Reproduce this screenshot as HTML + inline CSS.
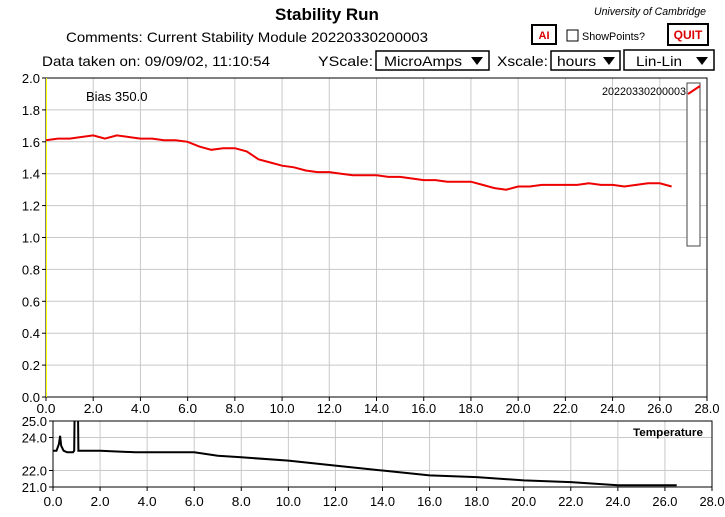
<!DOCTYPE html>
<html><head><meta charset="utf-8"><style>
body{margin:0;background:#fff;width:725px;height:512px;overflow:hidden;font-family:"Liberation Sans",sans-serif}
svg text{font-family:"Liberation Sans",sans-serif}
</style></head><body>
<svg id="c" width="725" height="512" xmlns="http://www.w3.org/2000/svg">
<text x="327" y="20" font-size="17" font-weight="bold" text-anchor="middle">Stability Run</text>
<text x="706" y="15" font-size="11" font-style="italic" text-anchor="end" textLength="112" lengthAdjust="spacingAndGlyphs">University of Cambridge</text>
<text x="66" y="42" font-size="14" textLength="362" lengthAdjust="spacingAndGlyphs">Comments:  Current Stability Module 20220330200003</text>
<g><rect x="532" y="25" width="24" height="19" fill="#fff" stroke="#000" stroke-width="2"/><text x="544" y="39" font-size="11" font-weight="bold" fill="#d00" text-anchor="middle">AI</text></g>
<g><rect x="567" y="30" width="11" height="11" fill="#fff" stroke="#000"/><text x="582" y="40" font-size="11" textLength="63" lengthAdjust="spacingAndGlyphs">ShowPoints?</text></g>
<g><rect x="668" y="24" width="40" height="21" fill="#fff" stroke="#000" stroke-width="2"/><text x="688" y="39" font-size="12" font-weight="bold" fill="#d00" text-anchor="middle">QUIT</text></g>
<text x="42" y="66" font-size="14" textLength="228" lengthAdjust="spacingAndGlyphs">Data taken on: 09/09/02, 11:10:54</text>
<text x="318" y="66" font-size="14" textLength="55" lengthAdjust="spacingAndGlyphs">YScale:</text>
<g><rect x="376" y="51" width="113" height="19" fill="#fff" stroke="#000" stroke-width="1.5"/><text x="384" y="66" font-size="14" textLength="78" lengthAdjust="spacingAndGlyphs">MicroAmps</text><path d="M471 57h12l-6 8z"/></g>
<text x="497" y="66" font-size="14" textLength="51" lengthAdjust="spacingAndGlyphs">Xscale:</text>
<g><rect x="551" y="51" width="69" height="19" fill="#fff" stroke="#000" stroke-width="1.5"/><text x="557" y="66" font-size="14" textLength="39" lengthAdjust="spacingAndGlyphs">hours</text><path d="M603 57h12l-6 8z"/></g>
<g><rect x="624" y="50" width="90" height="20" fill="#fff" stroke="#000" stroke-width="1.5"/><text x="636" y="66" font-size="14" textLength="46" lengthAdjust="spacingAndGlyphs">Lin-Lin</text><path d="M696 57h12l-6 8z"/></g>
<g id="main"></g><g id="temp"></g>
</svg>
<script>
const hours=[0,0.5,1,1.5,2,2.5,3,3.5,4,4.5,5,5.5,6,6.5,7,7.5,8,8.5,9,9.5,10,10.5,11,11.5,12,12.5,13,13.5,14,14.5,15,15.5,16,16.5,17,17.5,18,18.5,19,19.5,20,20.5,21,21.5,22,22.5,23,23.5,24,24.5,25,25.5,26,26.5];
const current=[1.61,1.62,1.62,1.63,1.64,1.62,1.64,1.63,1.62,1.62,1.61,1.61,1.60,1.57,1.55,1.56,1.56,1.54,1.49,1.47,1.45,1.44,1.42,1.41,1.41,1.40,1.39,1.39,1.39,1.38,1.38,1.37,1.36,1.36,1.35,1.35,1.35,1.33,1.31,1.30,1.32,1.32,1.33,1.33,1.33,1.33,1.34,1.33,1.33,1.32,1.33,1.34,1.34,1.32];
const tempHours=[0,0.15,0.25,0.3,0.35,0.45,0.6,0.85,0.9,0.92,1.06,1.08,1.1,2,3.5,6,7,8,10,12,14,16,18,20,22,24,26.5];
const tempValues=[23.2,23.2,23.6,24.1,23.5,23.2,23.1,23.1,23.2,26,26,23.2,23.2,23.2,23.1,23.1,22.9,22.8,22.6,22.3,22.0,21.7,21.6,21.4,21.3,21.1,21.1];
const xTicks=[0,2,4,6,8,10,12,14,16,18,20,22,24,26,28];
const yTicks=[0,0.2,0.4,0.6,0.8,1.0,1.2,1.4,1.6,1.8,2.0];
const tTicks=[21,22,24,25];
const NS="http://www.w3.org/2000/svg";
function mk(p,t,a){const e=document.createElementNS(NS,t);for(const k in a)e.setAttribute(k,a[k]);p.appendChild(e);return e;}
// main axes
const M={l:46,r:707,t:78,b:397};
const mx=h=>M.l+h/28*(M.r-M.l), my=v=>M.b-v/2*(M.b-M.t);
const g=document.getElementById('main');
xTicks.forEach(t=>{const l=mk(g,'line',{x1:mx(t),x2:mx(t),y1:M.t,y2:M.b,stroke:'#c8c8c8'});


mk(g,'line',{x1:mx(t),x2:mx(t),y1:M.b,y2:M.b+4,stroke:'#000'});
const tx=mk(g,'text',{x:mx(t),y:M.b+16,'font-size':13,'text-anchor':'middle',textLength:t>=10?25:19,lengthAdjust:'spacingAndGlyphs'});tx.textContent=t.toFixed(1);

});
yTicks.forEach(t=>{mk(g,'line',{x1:M.l,x2:M.r,y1:my(t),y2:my(t),stroke:'#c8c8c8'});
mk(g,'line',{x1:M.l-4,x2:M.l,y1:my(t),y2:my(t),stroke:'#000'});
const tx=mk(g,'text',{x:M.l-6,y:my(t)+5,'font-size':13,'text-anchor':'end'});tx.textContent=t.toFixed(1);

});
const fr=mk(g,'rect',{x:M.l,y:M.t,width:M.r-M.l,height:M.b-M.t,fill:'none',stroke:'#000'});


mk(g,'line',{x1:M.l+0.5,x2:M.l+0.5,y1:M.t,y2:M.b,stroke:'#ff0'});
const bias=mk(g,'text',{x:86,y:101,'font-size':13});bias.textContent='Bias 350.0';


let d='';hours.forEach((h,i)=>{d+=(i?'L':'M')+mx(h).toFixed(1)+' '+my(current[i]).toFixed(1)+' ';});
const cl=mk(g,'path',{d:d,fill:'none',stroke:'#e00','stroke-width':2});


const lg=mk(g,'rect',{x:687,y:83,width:13,height:163,fill:'#fff',stroke:'#444'});


mk(g,'line',{x1:688,y1:94,x2:700,y2:86,stroke:'#e00','stroke-width':2});
const lt=mk(g,'text',{x:686,y:95,'font-size':11,'text-anchor':'end',textLength:84,lengthAdjust:'spacingAndGlyphs'});lt.textContent='20220330200003';


// temperature axes
const T={l:53,r:712,t:421,b:487};
const tx_=h=>T.l+h/28*(T.r-T.l), ty=v=>T.b-(v-21)/4*(T.b-T.t);
const g2=document.getElementById('temp');
xTicks.forEach(t=>{mk(g2,'line',{x1:tx_(t),x2:tx_(t),y1:T.t,y2:T.b,stroke:'#c8c8c8'});
mk(g2,'line',{x1:tx_(t),x2:tx_(t),y1:T.b,y2:T.b+4,stroke:'#000'});
const tx=mk(g2,'text',{x:tx_(t),y:T.b+19,'font-size':13,'text-anchor':'middle',textLength:t>=10?25:19,lengthAdjust:'spacingAndGlyphs'});tx.textContent=t.toFixed(1);

});
tTicks.forEach(t=>{mk(g2,'line',{x1:T.l,x2:T.r,y1:ty(t),y2:ty(t),stroke:'#c8c8c8'});
mk(g2,'line',{x1:T.l-4,x2:T.l,y1:ty(t),y2:ty(t),stroke:'#000'});
const tx=mk(g2,'text',{x:T.l-6,y:ty(t)+5,'font-size':13,'text-anchor':'end'});tx.textContent=t.toFixed(1);

});
const cp=mk(g2,'clipPath',{id:'tc'});mk(cp,'rect',{x:T.l,y:T.t,width:T.r-T.l,height:T.b-T.t});
let d2='';tempHours.forEach((h,i)=>{d2+=(i?'L':'M')+tx_(h).toFixed(1)+' '+ty(tempValues[i]).toFixed(1)+' ';});
const tl=mk(g2,'path',{d:d2,fill:'none',stroke:'#000','stroke-width':2,'clip-path':'url(#tc)'});


const f2=mk(g2,'rect',{x:T.l,y:T.t,width:T.r-T.l,height:T.b-T.t,fill:'none',stroke:'#000'});


const tt=mk(g2,'text',{x:703,y:436,'font-size':11,'font-weight':'bold','text-anchor':'end',textLength:70,lengthAdjust:'spacingAndGlyphs'});tt.textContent='Temperature';


</script>
</body></html>
